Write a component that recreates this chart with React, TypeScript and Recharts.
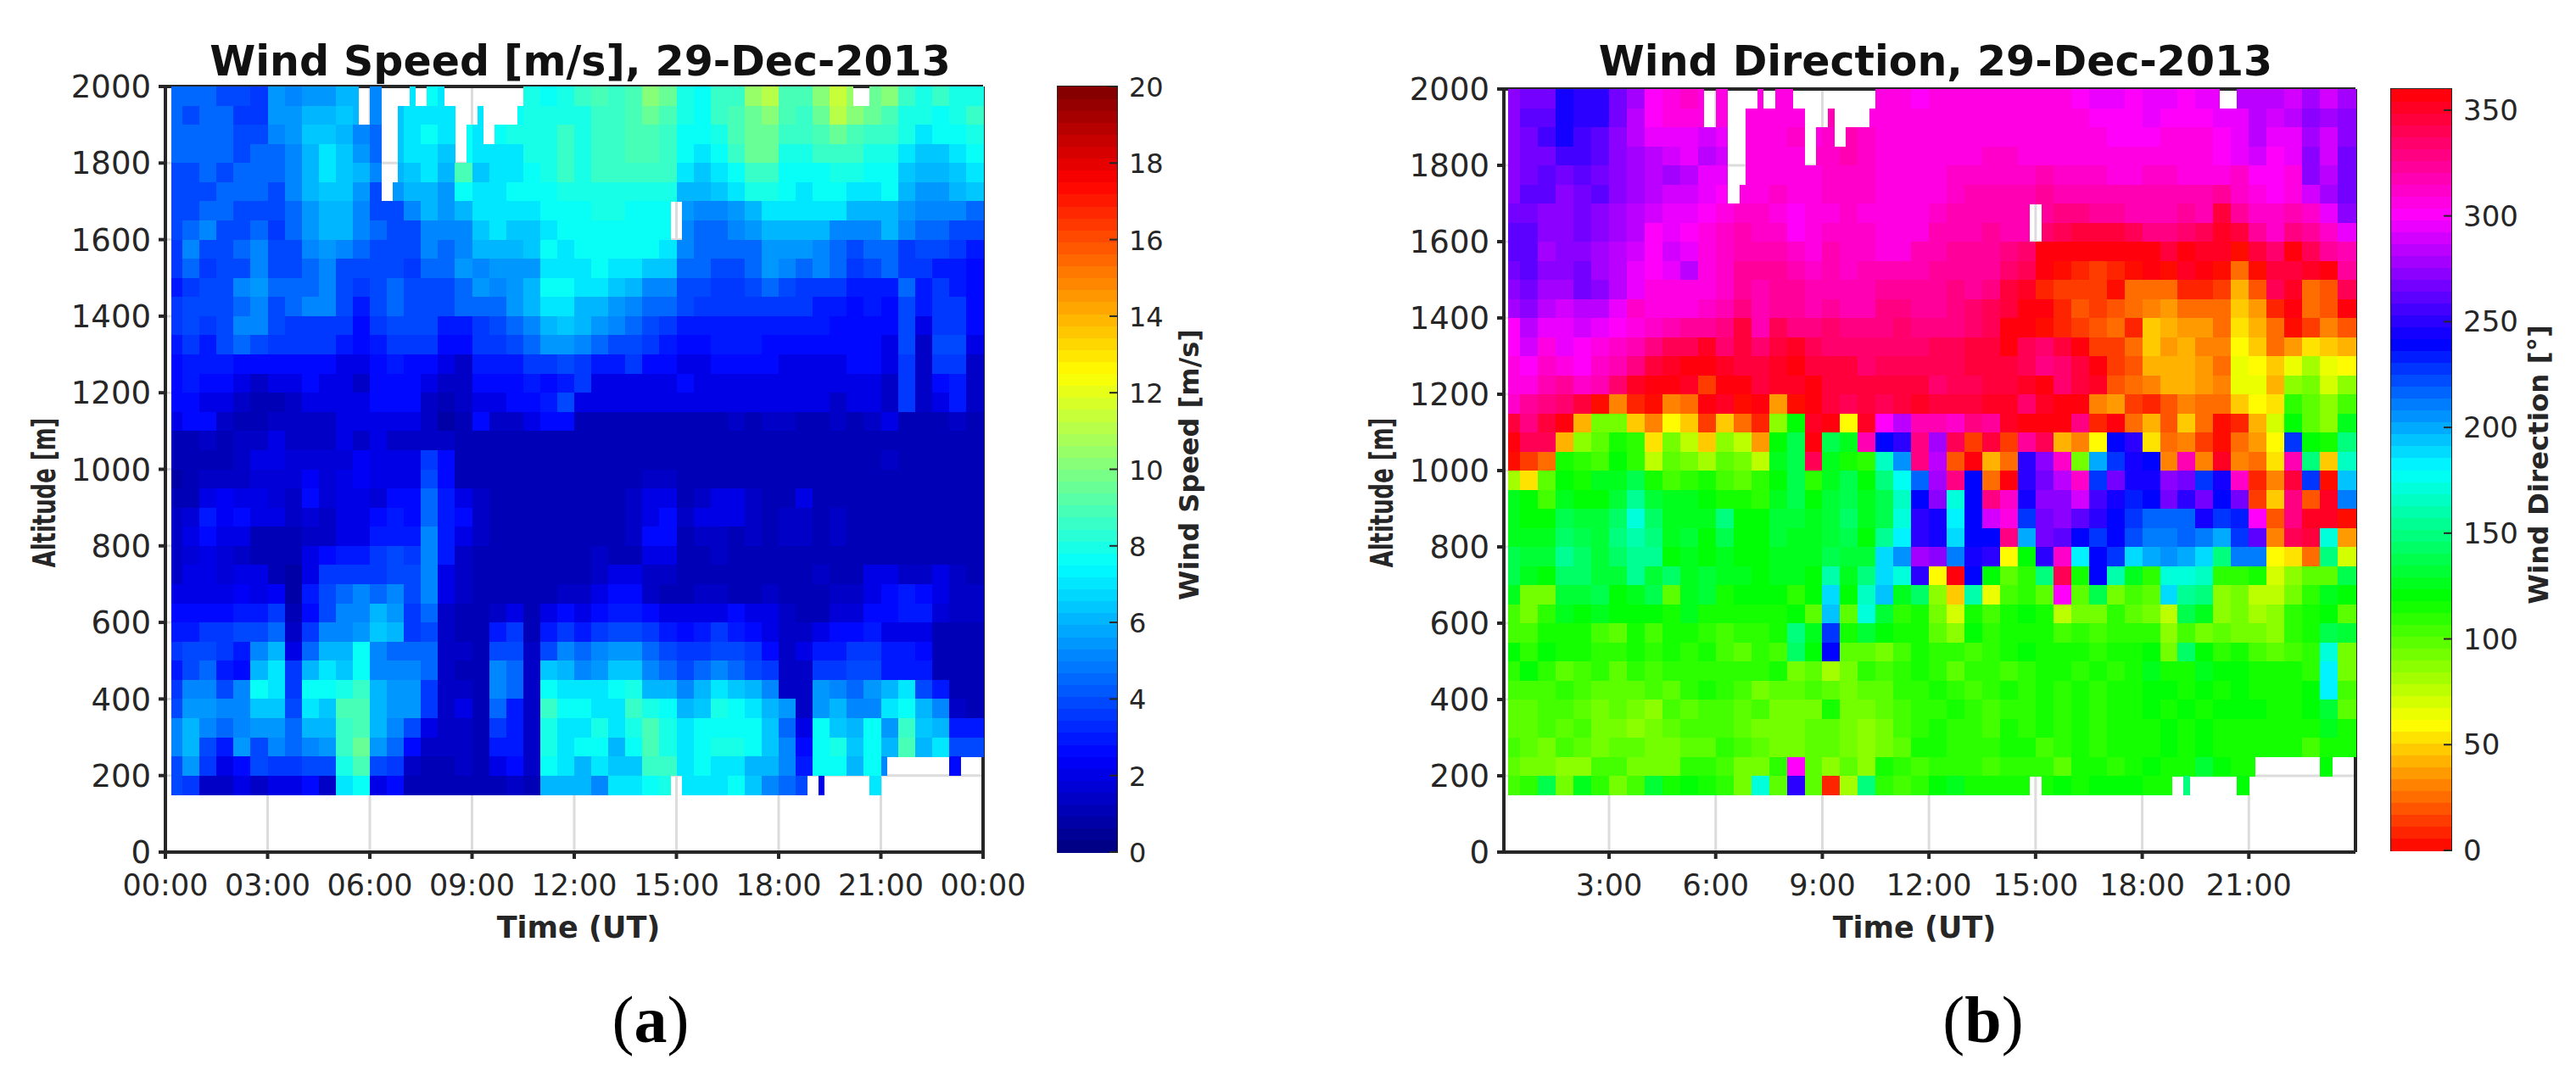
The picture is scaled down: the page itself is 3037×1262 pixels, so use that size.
import { ReferenceArea, Scatter, ScatterChart, CartesianGrid, XAxis, YAxis } from "recharts"

const FONT = "'DejaVu Sans', sans-serif"
const INK = "#262626"

// bin centres, top of the plot first (50 m bins)
const altitudes = [
  1975, 1925, 1875, 1825, 1775, 1725, 1675, 1625, 1575, 1525, 1475, 1425, 1375, 1325, 1275, 1225, 1175, 1125, 1075,
  1025, 975, 925, 875, 825, 775, 725, 675, 625, 575, 525, 475, 425, 375, 325, 275, 225, 175,
]

// 30 minute columns, 8 groups of 3 hours per row
const speedRows = [
  [4.5,4.5,4.5,4,4,3.5, 5.5,5,5.5,5.5,6,6, 5,6.5,7,7.5,7,7, 7,7,7.5,8,7.5,8, 8.5,9,8.5,9,10,9.5, 8,7.5,8.5,8.5,10.5,11, 9,9,10,11.5,10.5,9.5, 10,8.5,8,8.5,8,8],
  [4.5,4,4.5,4.5,3.5,3.5, 5.5,5.5,6,6,6.5,6, 5,6.5,7,7,7,6.5, 7,7,7.5,8,8,8, 8,8.5,8.5,9,9.5,9, 8,7.5,8.5,9,9.5,10, 9,8.5,9.5,11,10,9.5, 9,8,8,7.5,8,8.5],
  [4.5,4.5,4.5,4.5,4,4, 5,5.5,6.5,6.5,6,5, 4.5,6.5,7,7.5,7,7.5, 7,7.5,8,8,8,8.5, 8,8.5,8.5,9,9,8.5, 7.5,7.5,8,9,9.5,9.5, 8.5,8.5,9,9.5,9,8.5, 8.5,8,7,7.5,7.5,8],
  [4.5,4.5,4.5,4.5,4,4.5, 4.5,5,6,7,6.5,5.5, 4.5,6.5,7,7,6.5,7.5, 7,7,7,8,8,8.5, 8,8.5,8.5,9,9,8.5, 7.5,7,7.5,8.5,9.5,9.5, 8,8,8.5,8.5,8.5,8, 8,7,6.5,6.5,7,7.5],
  [4,4,4.5,4,4.5,4.5, 4.5,5,6,7,6.5,6, 5,6,6.5,7,6,9, 6.5,7,7,7.5,8,8.5, 8,8.5,8.5,8.5,8.5,8.5, 7,6.5,7,7.5,8.5,8.5, 7.5,7.5,7.5,8,8,7.5, 7.5,6.5,6,6,6.5,7],
  [4,4,4,4.5,4.5,4.5, 4,5,6,6.5,6.5,5.5, 4,5.5,6,6,5.5,7.5, 7,7,7.5,7.5,7.5,8, 8,8,8,8,8,8, 6,6,6.5,7,8,8, 7.5,7,7.5,7.5,7,7, 7.5,6,5.5,5.5,6,6.5],
  [4,4,4.5,4.5,4,4, 4,4.5,5.5,6,6,5, 4,4,5,6,5.5,6, 7,7,7,7,7.5,7.5, 7.5,8,8,7.5,7.5,7.5, 5.5,5,5,5.5,6,7, 7,7,7,7,6,6, 6,5.5,5,5,5,4.5],
  [4,4.5,5,4,4,4.5, 3.5,4.5,5.5,6,6,5, 4.5,4,4,5,5,5, 6.5,7,6.5,6.5,7,7.5, 7.5,7.5,7.5,7.5,7.5,7.5, 5,4.5,4.5,5,5.5,6, 6,6,6,5,5,5, 6,5,4.5,4.5,4,4],
  [3.5,5,4,4,4.5,5, 4,4,5,5.5,5,4.5, 4,4,4,5,4.5,5, 6,6,6,6.5,7.5,7, 7.5,7.5,7.5,7.5,7.5,7, 5,4.5,4.5,4.5,4.5,5.5, 5.5,5.5,5,4.5,4,4.5, 4.5,3.5,4,4,3.5,3],
  [3.5,4.5,3.5,4,4,5, 4,4,4.5,5,4,4, 4,4,3.5,4.5,4.5,5.5, 5,5.5,5.5,5.5,7,7, 7,7.5,7,7,6.5,6.5, 4.5,4.5,4,4,4.5,5.5, 5,4.5,5,4.5,3.5,4, 4.5,3.5,3.5,3,3,2.5],
  [3,3.5,4,4,5,5.5, 4.5,4.5,4.5,5,4,3.5, 4,4.5,4,4,4,4.5, 5.5,5,5.5,6,7.5,7.5, 7,7,6.5,6,5,5, 4,4,3.5,3.5,4,4.5, 4,3.5,3.5,3.5,3,3, 3,4.5,3,3.5,3,2.5],
  [3.5,4,4,4,4.5,5, 4,4.5,5,5,4,3, 4,4.5,4,4,4,4.5, 4.5,4.5,5.5,6,7,7, 6,6,5.5,5,4.5,4.5, 4,3.5,3.5,3.5,3.5,3.5, 3.5,3.5,3,3,2.5,3, 2.5,4,3,3.5,3.5,2.5],
  [3.5,4,3.5,4,5,5, 4,3.5,3.5,3.5,3.5,2.5, 3.5,4,4,4,3,3, 3.5,4,4.5,5,6,6.5, 6,5.5,5,4.5,4,3.5, 3,3,3,3,3,3, 3,3,3,2.5,2.5,2.5, 2.5,4,2,3.5,3.5,2.5],
  [3,3.5,3,4,4.5,4, 3.5,3.5,3.5,3.5,3,2.5, 3,3.5,3.5,3.5,2.5,2.5, 3.5,3.5,4,4.5,5.5,5.5, 5,4.5,4,4,3.5,3, 2.5,2.5,3,3,3,2.5, 2.5,2.5,2.5,2.5,2.5,2.5, 2,4,1.5,4,4,2],
  [2.5,3,3,3,2.5,2.5, 2.5,2.5,2.5,2.5,2,2, 2.5,3,2.5,2.5,2,1.5, 3,3,3,3.5,3.5,4, 3.5,3,3,3.5,2.5,2.5, 2,2,2.5,2.5,2.5,2.5, 2,2,2,2,2.5,2.5, 2,3.5,1.5,3.5,3.5,1.5],
  [2.5,3,2.5,2.5,2,1.5, 2,2,2.5,2,2,1.5, 2.5,2.5,2.5,2,1.5,1.5, 2.5,2.5,2.5,3,2.5,3, 3.5,2,2,2,2,2, 2.5,2,2,2,2,2, 2,2,2,2,2,2, 1.5,3.5,1.5,2.5,3,1.5],
  [2.5,2.5,2,2,1.5,1, 1,1.5,2,2,2,2, 2.5,2.5,2.5,1.5,1,1.5, 2,2,2.5,2.5,3,4, 2,2,2,2,2,2, 2,2,2,2,2,2, 2,2,2,1.5,2,2, 1.5,3.5,1.5,2,3,1.5],
  [2,2.5,2.5,1.5,1,1, 1.5,1.5,1.5,1.5,2,2, 2,2,2,1.5,0.8,1, 2.5,1.5,1.5,2,2.5,2.5, 1.2,1.2,1.2,1.2,1.2,1.2, 1.2,1.2,1.2,1.5,1.2,1.5, 1.5,1.2,1,1.5,1,1.5, 2,1,1,1.2,1.5,1.2],
  [1,1.2,1.5,1,1.5,1.5, 2,1.5,1.5,1.5,2,1.5, 2,1.5,1.5,1.5,1.5,1, 1,1,1.2,1.2,1.2,1.2, 1,1,1.2,1,1,1, 1,1,1,1,1,1, 1.2,1,1.2,1.2,1.2,1, 1.2,1,1,1,1,1],
  [1,1,1.2,1.2,1.5,2, 2,1.8,1.8,1.8,1.8,2.2, 2,2,2,3.5,2.5,1.2, 1.2,1,1,1,1,1, 1,1,1,1,1,1, 1,1,1,1,1,1, 1,1,1,1,1,1, 1.5,1,1,1,1,1],
  [0.8,1,1.5,1.5,1.5,1.8, 1.8,1.8,2.2,1.8,2,2.2, 2,2,2,4,2.5,1, 1,1,1,1,1,1, 1,1,1,1.2,1.5,1.5, 1,1,1,1,1,1, 1,1,1,1,1,1, 1,1,1,1,1,1],
  [1,1,2,2.2,2,2, 1.8,1.5,2.5,1.8,2,2, 1.8,2.5,2.5,4.5,3,2, 1.5,1.2,1.2,1,1,1, 1,1,1,1.5,2,2, 1.2,1.5,2,2,1.5,1, 1.2,2,1,1,1,1, 1,1,1,1,1,1],
  [1.5,1.8,3,2.2,2.5,2, 2,1.5,1.8,1.5,2,2, 2.5,3,2.5,4.5,3,2.5, 1.5,1,1,1,1,1, 1.2,1,1,1.5,2,2.5, 1.5,2,2,2,1.5,1.2, 1.5,1.5,1,1.5,1,1, 1,1,1,1,1,1],
  [1.5,2,2.5,2,2,1.2, 1.2,1.2,1.5,1.5,2,2, 3,3,3,5,3,2, 1.5,1.2,1,1,1,1, 1.2,1,1,1.5,2.5,2.5, 1.2,1.5,1.5,1.2,1.5,1.2, 1.5,1.5,1,1.5,1,1.2, 1,1,1,1,1,1],
  [1.5,1.8,2,1.8,1.5,1.2, 1,1.2,2,2.5,3,3, 3.5,4,3.5,5,3,1.5, 1,1,1,1,1.2,1, 1.2,1.5,1,1,2,2, 1,1,1.5,1,1,1, 1,1,1,1,1,1, 1,1,1,1,1,1],
  [1.5,2,2,1.8,2,2, 1.2,0.8,2,3.5,3.5,3.5, 3.5,4,4,5,2,1.5, 1.2,1,1,1,1,1, 1.2,1.5,2,2,1.5,1.5, 1,1,1,1,1,1, 1,1,1.5,1,1.2,2, 2,1.5,1.5,2,1.5,1],
  [2,2,2,2,2.2,2, 2.2,0.8,3,4,4.5,5, 4.5,5,4,5,2,1.5, 1,1,1.2,1,1,1.5, 1.5,2,2.5,2.5,1.5,1.2, 1.2,1.5,1.5,1.2,1.2,1.5, 1,1,1,1.5,1.5,2, 2.5,3,2.5,2,1.5,1.5],
  [2.5,2.5,2.5,2.5,3,3, 3.5,1,2.5,4,5,5, 6,5.5,3.5,4.5,1.5,1.2, 1,1.5,2,1.2,2,2.5, 2,2.5,3,3,2.5,2, 2,2,2,2.5,2,2, 1.5,1.2,1.2,1.8,1.8,2.5, 2.5,3,3,1.8,1.5,1.5],
  [3,3,3.5,3.5,4,4, 4.5,1.5,3.5,5,5,5.5, 6.5,6,3.5,4,1.5,1.2, 1,3,3.5,1.2,3,3.5, 3,3.5,4,4,3.5,3, 2.5,3,3.5,3,2.5,2, 1.5,1.5,2,2.5,2.5,3, 2,2,2,1,1,1],
  [3.5,4,4,3.5,3,5, 6,2,4.5,6,6,7.5, 5,4.5,4.5,4.5,1.5,1.5, 1,4,4,1.5,4,5, 4.5,5,5.5,5.5,4.5,4, 3.5,3.5,4,4,3.5,2.5, 1.5,2,3,3,3.5,3.5, 3,3,2.5,1,1,1],
  [3,4,4.5,3,2.5,6, 7,3.5,6,7,6.5,7.5, 5,5,5,4.5,1.5,1.2, 1,5,4.5,1.5,6.5,6, 5,5.5,6.5,6.5,5,4.5, 4,4.5,5,4.5,4,3.5, 1.5,1.5,3.5,3.5,4,4, 3,3,3,1,1,1],
  [3.5,5,5,4,5,7.5, 7,3.5,7.5,7.5,8,8.5, 6,5.5,5.5,3.5,1.5,1.5, 1.2,5,4.5,1.5,7.5,7, 7,7,7.5,8,6,6, 5,6,7,6.5,6,5, 1.5,1.5,5.5,5,4.5,5.5, 6,7,4,3,1,1],
  [4,5.5,5.5,5,5,6.5, 6.5,4,7,6.5,9,9, 6,5.5,5.5,3.5,1.5,2, 1.2,4.5,3,1.5,8.5,7.5, 7.5,7,7,8.5,8,7.5, 6,6.5,8,7.5,7,6, 5.5,1.5,5.5,6,5,5, 7,7.5,6,5,1.5,1],
  [5,6,5,4.5,5,5.5, 5.5,4.5,6,6,8.5,9, 6,5,4,2,1.5,1.5, 1.2,3.5,3,1.5,8,7, 7,8,7,8,9,8, 7,7.5,7.5,7.5,7.5,6.5, 4.5,2,7.5,6.5,6,7.5, 5.5,8.5,6.5,6,3,3],
  [5,6,4,3,5.5,4, 5,4.5,5,5.5,8.5,9.5, 5.5,4.5,2.5,1.5,1.5,1.5, 1,3,3,1.5,8,7, 7.5,7.5,6,7.5,9,8, 7,7.5,8,8,7.5,6.5, 5,2.5,7.5,8,6.5,7.5, 6,9,6,7,4,4],
  [4,5.5,3.5,2,2.5,4, 3.5,3.5,4,4,8,9, 4,3.5,1.5,1,1,1.5, 1,2,2.5,1.5,7.5,7, 6,7,6.5,6.5,8.5,8.5, 7,7.5,7,7,6,6, 5,3,7.5,7.5,6,7.5, 5,5,5,5.5,2.5,5],
  [4,3.5,1.5,1.5,2,1.5, 2,2,2.5,1.5,7,7.5, 2,2.5,1,1,1,1, 1,1.2,1.5,1,6,6, 6,5,7,7,7.5,8, 7,7,7,7.5,6.5,5, 4.5,4,2,2,2,7, 5,5,5,5,5,5],
]

const directionRows = [
  [275,265,265,245,250,252, 265,280,300,305,310,305, 305,305,305,305,305,305, 305,310,305,305,305,302, 305,305,305,305,305,305, 305,305,300,298,298,300, 298,298,300,295,295,285, 282,285,290,278,290,278],
  [270,262,262,245,250,252, 268,282,300,305,305,305, 305,305,305,305,305,310, 318,305,305,305,305,305, 305,305,305,305,305,305, 305,305,305,302,300,300, 298,300,300,300,298,295, 285,290,285,275,280,275],
  [272,265,258,245,255,260, 270,282,295,298,295,290, 295,305,305,305,310,305, 310,315,310,305,305,305, 305,305,305,305,305,305, 305,305,305,305,300,300, 302,305,305,305,300,295, 285,295,295,278,290,270],
  [272,265,265,255,258,262, 272,280,285,290,295,285, 290,305,305,305,305,310, 310,315,312,305,305,305, 305,305,305,310,310,305, 305,305,305,305,305,305, 305,305,305,305,300,298, 290,300,295,272,290,268],
  [272,265,260,265,262,265, 275,280,285,280,285,295, 295,305,305,305,305,305, 310,310,310,305,305,305, 305,310,310,312,310,310, 315,312,312,310,305,305, 310,310,305,305,305,310, 300,302,305,275,285,265],
  [270,262,262,272,265,262, 275,280,285,290,290,295, 300,305,305,310,305,305, 310,310,310,305,305,305, 305,310,315,318,315,315, 325,320,320,318,315,315, 315,315,315,315,325,310, 305,300,305,290,280,268],
  [265,265,270,272,268,275, 278,282,290,295,295,300, 305,310,310,305,300,305, 305,310,305,305,305,305, 310,315,320,320,320,315, 325,330,328,325,322,320, 320,320,322,320,345,325, 310,310,315,310,295,275],
  [262,262,275,272,265,272, 280,285,300,295,300,305, 310,315,312,310,300,305, 310,310,310,305,305,305, 315,318,320,322,320,320, 335,340,345,345,345,340, 330,330,335,340,350,345, 325,312,330,325,310,295],
  [262,262,278,272,270,280, 282,290,300,290,295,305, 310,320,318,315,310,305, 315,310,310,305,305,315, 320,322,325,325,330,335, 355,358,358,358,358,358, 355,345,355,350,350,5, 345,335,355,340,322,315],
  [265,262,275,275,268,280, 285,295,300,295,285,305, 310,325,325,325,320,310, 315,310,315,315,315,318, 325,325,325,325,335,340, 358,5,10,15,10,0, 355,5,352,355,0,25, 5,345,345,350,355,325],
  [270,265,280,280,268,275, 285,295,305,305,305,308, 310,325,318,325,325,315, 320,315,320,325,325,325, 325,330,325,330,345,350, 10,15,15,15,5,25, 25,25,10,8,15,40, 20,340,350,28,20,340],
  [280,275,285,290,285,285, 295,310,305,305,305,310, 315,330,315,325,325,320, 325,320,320,330,328,325, 325,330,335,338,345,355, 355,10,18,15,18,25, 32,38,28,25,28,48, 35,10,355,25,22,355],
  [300,285,298,295,290,295, 300,305,310,320,325,325, 330,345,320,340,328,328, 335,330,330,330,335,330, 330,330,335,340,355,355, 0,8,15,18,25,10, 45,42,38,38,25,55, 42,25,5,15,30,20],
  [300,290,305,298,300,305, 310,315,330,340,340,350, 335,345,335,345,350,340, 335,335,335,335,335,335, 340,340,345,345,355,340, 335,345,355,12,15,25, 45,38,42,32,30,60, 50,25,35,55,45,42],
  [305,300,310,305,300,310, 315,330,345,350,355,355, 350,345,345,352,355,345, 345,345,335,340,340,340, 340,340,345,345,345,340, 330,335,345,355,15,22, 40,42,40,35,28,62, 60,50,65,80,65,60],
  [305,305,320,325,310,320, 335,350,355,355,352,15, 358,355,345,350,352,355, 345,345,345,345,345,345, 335,338,340,345,345,350, 355,335,345,350,18,25, 32,40,42,38,30,62, 65,40,85,90,70,85],
  [310,325,330,335,345,5, 30,8,5,30,25,358, 350,5,355,35,0,355, 345,340,345,340,345,350, 345,345,345,350,350,335, 350,355,355,30,38,15, 8,20,30,28,25,45, 60,55,110,100,85,105],
  [345,330,345,355,40,90, 90,50,30,60,45,15, 50,25,10,85,120,350, 355,60,350,300,285,320, 320,310,330,325,350,355, 355,358,330,10,358,25, 40,20,45,25,5,10, 40,70,120,100,85,125],
  [355,340,340,40,85,100, 115,110,55,90,75,50, 85,75,35,120,135,355, 140,125,320,240,250,330, 280,340,15,345,15,325, 340,40,30,60,240,250, 55,25,30,15,5,25, 35,60,230,120,115,150],
  [5,15,25,115,110,105, 120,110,75,100,95,80, 100,95,75,125,140,340, 125,115,110,165,205,330, 285,20,355,40,25,250, 275,310,90,200,225,245, 240,30,320,30,350,30, 25,55,320,150,45,165],
  [80,55,100,120,115,125, 125,135,115,105,110,115, 105,100,110,120,135,110, 125,135,120,150,175,215, 280,330,240,25,355,250, 265,285,310,230,265,245, 245,275,265,230,245,310, 10,30,345,230,0,195],
  [125,120,105,125,120,120, 130,155,130,125,125,120, 115,115,110,125,135,120, 130,140,125,140,165,240, 270,170,240,330,310,245, 270,275,290,255,245,235, 240,265,250,265,240,265, 15,50,330,20,350,210],
  [125,120,120,135,130,130, 145,170,145,125,125,125, 150,120,120,130,130,125, 130,145,125,135,170,250, 245,185,240,290,305,225, 265,270,260,250,240,225, 215,215,215,245,230,235, 300,20,330,350,350,5],
  [125,125,125,145,140,130, 150,160,150,125,130,120, 135,120,120,130,125,125, 130,135,120,155,185,250, 245,190,240,240,330,200, 265,260,240,225,240,220, 210,210,215,210,200,225, 260,30,340,345,170,35],
  [135,130,130,155,145,130, 145,155,155,120,125,120, 125,120,120,125,125,125, 135,130,130,190,205,280, 270,210,245,250,60,120, 250,310,180,240,230,190, 200,205,200,190,150,210, 210,60,55,25,150,70],
  [140,125,120,145,145,130, 130,155,130,145,125,130, 125,125,120,125,125,120, 160,125,150,190,170,250, 60,355,240,120,100,110, 150,340,115,240,160,125, 110,170,170,165,110,110, 115,70,85,100,100,140],
  [125,90,95,130,130,135, 120,125,135,100,125,130, 115,120,120,120,110,120, 190,120,165,195,125,145, 85,50,160,65,105,110, 100,300,100,140,95,105, 100,190,155,150,85,90, 75,75,90,110,125,120],
  [105,95,110,125,120,125, 120,120,120,115,125,115, 115,115,115,115,120,100, 195,100,170,130,110,115, 95,70,115,105,115,120, 115,75,90,95,110,100, 95,75,140,125,85,90, 80,85,110,115,120,100],
  [105,105,115,115,115,105, 100,115,105,115,115,110, 105,110,110,115,150,125, 230,115,130,120,115,115, 100,85,120,110,115,115, 115,105,110,105,110,110, 110,85,105,90,100,95, 90,85,110,115,135,130],
  [120,110,120,115,115,110, 110,115,110,115,110,115, 105,100,110,105,145,120, 240,100,100,95,105,115, 110,110,105,110,115,120, 115,115,115,110,115,115, 120,95,145,120,110,115, 105,100,105,110,170,90],
  [110,120,110,100,105,110, 100,110,105,110,110,110, 110,110,110,115,90,100, 80,95,110,105,110,115, 110,100,110,110,105,110, 115,115,110,115,110,115, 125,115,115,125,120,120, 115,115,115,110,180,90],
  [105,105,105,110,105,100, 100,100,105,100,110,115, 110,105,95,100,100,105, 100,95,100,100,110,110, 115,110,105,110,115,110, 115,110,115,110,115,115, 120,120,115,120,115,120, 115,115,115,120,180,105],
  [100,100,105,105,100,95, 100,95,85,105,100,105, 105,100,105,90,90,90, 115,90,90,100,105,110, 110,115,110,105,110,110, 115,110,115,110,115,115, 120,115,120,115,120,120, 120,115,115,120,130,100],
  [100,100,105,100,105,95, 95,85,95,100,105,105, 105,100,95,90,95,100, 100,95,85,90,105,110, 115,110,110,105,115,110, 115,110,115,110,115,115, 115,120,115,120,115,115, 115,115,115,115,125,115],
  [105,100,95,105,100,95, 100,100,90,95,100,100, 110,105,100,90,95,100, 100,90,85,95,100,115, 115,110,110,110,115,115, 105,110,115,110,115,115, 115,120,115,120,115,115, 115,115,115,105,115,115],
  [100,95,90,85,85,105, 105,95,90,95,110,110, 105,95,90,110,300,100, 85,100,85,115,110,105, 110,110,110,105,110,110, 110,100,115,115,110,115, 120,115,115,130,120,115, 115,115,115,115,120,120],
  [105,110,140,95,125,110, 90,105,130,115,120,115, 110,95,170,100,250,100, 10,80,150,110,105,110, 120,125,115,115,115,115, 115,120,115,120,120,120, 115,115,150,115,115,120, 115,115,115,115,115,115],
]

// missing retrievals: [from h, to h, from m, to m]
const gaps = [
  [0, 1 / 6, 150, 2000], [5.67, 6, 1900, 2000], [6.33, 6.67, 1700, 2000], [6.67, 6.83, 1750, 2000],
  [6.83, 7.17, 1950, 2000], [7.33, 7.67, 1950, 2000], [8.17, 8.5, 1950, 2000], [8.5, 8.83, 1800, 2000],
  [8.83, 9.17, 1900, 2000], [9.17, 9.33, 1950, 2000], [9.33, 9.67, 1850, 2000], [9.67, 10.33, 1900, 2000],
  [10.33, 10.5, 1950, 2000], [14.83, 15.17, 1600, 1700], [20.17, 20.67, 1950, 2000], [14.83, 15.17, 150, 200],
  [18.83, 19.17, 150, 200], [19.33, 20.67, 150, 200], [21, 24, 150, 200], [21.17, 23, 200, 250], [23.33, 24, 200, 250],
]

const altitudeTicks = [0, 200, 400, 600, 800, 1000, 1200, 1400, 1600, 1800, 2000]
const speedTimeTicks = [0, 3, 6, 9, 12, 15, 18, 21, 24]
const directionTimeTicks = [3, 6, 9, 12, 15, 18, 21]
const speedBarTicks = [0, 2, 4, 6, 8, 10, 12, 14, 16, 18, 20]
const directionBarTicks = [0, 50, 100, 150, 200, 250, 300, 350]

const clamp = (v: number) => Math.round(255 * Math.max(0, Math.min(1, v)))
const jet = (f: number) =>
  `rgb(${clamp(Math.min(4 * f - 1.5, 4.5 - 4 * f))},${clamp(Math.min(4 * f - 0.5, 3.5 - 4 * f))},${clamp(Math.min(4 * f + 0.5, 2.5 - 4 * f))})`
const hsv = (f: number) => {
  const h = f * 6
  const part = (n: number) => 1 - Math.max(0, Math.min(1, Math.min((n + h) % 6, 4 - ((n + h) % 6))))
  return `rgb(${clamp(part(5))},${clamp(part(3))},${clamp(part(1))})`
}
const LEVELS = 64
const quantise = (v: number, max: number) => (Math.min(LEVELS - 1, Math.floor((v / max) * LEVELS)) + 0.5) / LEVELS

const isGap = (t: number, alt: number) => gaps.some((g) => t > g[0] && t < g[1] && alt > g[2] && alt < g[3])

// a 30 min column is only split into 10 min pieces where a gap cuts through it
function buildCells(rows: number[][], max: number, map: (f: number) => string) {
  const cells: { t: number; alt: number; span: number; color: string }[] = []
  rows.forEach((row, r) => {
    row.forEach((v, c) => {
      const color = map(quantise(v, max))
      const parts = [0, 1, 2].map((k) => c * 0.5 + (k + 0.5) / 6)
      const kept = parts.filter((t) => !isGap(t, altitudes[r]))
      if (kept.length === 3) cells.push({ t: c * 0.5 + 0.25, alt: altitudes[r], span: 0.5, color })
      else kept.forEach((t) => cells.push({ t, alt: altitudes[r], span: 1 / 6, color }))
    })
  })
  return cells
}

const timeTickStyle = { fontSize: 35, fontFamily: FONT, fill: INK }
const altTickStyle = { fontSize: 37, fontFamily: FONT, fill: INK }
const axisLine = { stroke: INK, strokeWidth: 4 }
const tickLine = { stroke: INK, strokeWidth: 4 }

function Heatmap({ left, plot, domain, cells, timeTicks, timeFormat }: any) {
  const chartH = 1120
  const pxHour = (plot.right - plot.left) / (domain[1] - domain[0])
  const cellH = ((plot.bottom - plot.top) / 2000) * 50
  const shape = (p: any) => {
    const w = p.payload.span * pxHour
    return (
      <rect
        x={p.cx - w / 2}
        y={p.cy - cellH / 2}
        width={w + 0.5}
        height={cellH + 0.5}
        fill={p.payload.color}
        shapeRendering="crispEdges"
      />
    )
  }
  return (
    <div style={{ position: "absolute", left, top: 0 }}>
      <ScatterChart
        width={plot.width}
        height={chartH}
        margin={{ left: plot.left - 100, right: plot.width - plot.right - 20, top: plot.top - 20, bottom: chartH - plot.bottom - 80 }}
      >
        <CartesianGrid stroke="#dcdcdc" strokeWidth={3} xAxisId="b" yAxisId="l" />
        <XAxis xAxisId="b" dataKey="t" type="number" domain={domain} ticks={timeTicks} tickFormatter={timeFormat} interval={0}
          height={80} tick={timeTickStyle} axisLine={axisLine} tickLine={tickLine} tickSize={8} tickMargin={18} />
        <XAxis xAxisId="t" orientation="top" type="number" domain={domain} ticks={timeTicks} interval={0}
          height={20} tick={false} axisLine={axisLine} tickLine={tickLine} tickSize={8} />
        <YAxis yAxisId="l" dataKey="alt" type="number" domain={[0, 2000]} ticks={altitudeTicks} interval={0}
          width={100} tick={altTickStyle} axisLine={axisLine} tickLine={tickLine} tickSize={8} tickMargin={9} />
        <YAxis yAxisId="r" orientation="right" type="number" domain={[0, 2000]} ticks={altitudeTicks} interval={0}
          width={20} tick={false} axisLine={axisLine} tickLine={tickLine} tickSize={8} />
        <Scatter xAxisId="b" yAxisId="l" data={cells} shape={shape} isAnimationActive={false} />
      </ScatterChart>
    </div>
  )
}

function ColorBar({ left, top, width, bottom, max, ticks, map, fontSize }: any) {
  const levels = Array.from({ length: LEVELS }, (_, i) => ({ x: 0.5, y: ((i + 0.5) / LEVELS) * max, color: map((i + 0.5) / LEVELS) }))
  const h = (bottom - top) / LEVELS
  const shape = (p: any) => (
    <rect x={p.cx - width / 2} y={p.cy - h / 2} width={width} height={h + 0.5} fill={p.payload.color} shapeRendering="crispEdges" />
  )
  const barTick = (p: any) => (
    <g>
      <line x1={p.x - 9} x2={p.x} y1={p.y} y2={p.y} stroke={INK} strokeWidth={2} />
      <text x={p.x + 14} y={p.y + 12} fontSize={fontSize} fontFamily={FONT} fill={INK}>{p.payload.value}</text>
    </g>
  )
  return (
    <div style={{ position: "absolute", left: left - 10, top: top - 30 }}>
      <ScatterChart width={width + 120} height={bottom - top + 60} margin={{ left: 10, right: 10, top: 30, bottom: 30 }}>
        <XAxis dataKey="x" type="number" domain={[0, 1]} hide />
        <YAxis dataKey="y" type="number" orientation="right" domain={[0, max]} ticks={ticks} interval={0}
          width={100} axisLine={false} tickLine={false} tickSize={0} tickMargin={0} tick={barTick} />
        <Scatter data={levels} shape={shape} isAnimationActive={false} />
        <ReferenceArea x1={0} x2={1} y1={0} y2={max} fill="none" stroke={INK} strokeWidth={2} />
      </ScatterChart>
    </div>
  )
}

function Label({ x, y, size, rotate = 0, squeeze = 1, color = INK, children }: any) {
  return (
    <div
      style={{
        position: "absolute",
        left: x,
        top: y,
        transform: `translate(-50%, -50%) rotate(${rotate}deg) scaleX(${squeeze})`,
        fontFamily: FONT,
        fontSize: size,
        fontWeight: "bold",
        color,
        whiteSpace: "nowrap",
      }}
    >
      {children}
    </div>
  )
}

function Caption({ x, letter }: any) {
  return (
    <div
      style={{
        position: "absolute",
        left: x,
        top: 1203,
        transform: "translate(-50%, -50%)",
        fontFamily: "'Liberation Serif', serif",
        fontSize: 78,
        color: "#000",
        whiteSpace: "nowrap",
      }}
    >
      (<b>{letter}</b>)
    </div>
  )
}

const speedCells = buildCells(speedRows, 20, jet)
const directionCells = buildCells(directionRows, 360, hsv)

export default function App() {
  return (
    <div style={{ position: "absolute", left: 0, top: 0, width: 3037, height: 1262, background: "#fff", overflow: "hidden" }}>
      <Heatmap
        left={0}
        plot={{ left: 195, right: 1159, top: 102, bottom: 1005, width: 1240 }}
        domain={[0, 24]}
        cells={speedCells}
        timeTicks={speedTimeTicks}
        timeFormat={(h: number) => `${String(h % 24).padStart(2, "0")}:00`}
      />
      <Heatmap
        left={1600}
        plot={{ left: 173, right: 1177, top: 105, bottom: 1005, width: 1220 }}
        domain={[0.04, 24]}
        cells={directionCells}
        timeTicks={directionTimeTicks}
        timeFormat={(h: number) => `${h}:00`}
      />
      <ColorBar left={1247} top={102} bottom={1005} width={70} max={20} ticks={speedBarTicks} map={jet} fontSize={32} />
      <ColorBar left={2819} top={105} bottom={1003} width={71} max={360} ticks={directionBarTicks} map={hsv} fontSize={34} />

      <Label x={684} y={72} size={49} color="#111">Wind Speed [m/s], 29-Dec-2013</Label>
      <Label x={2282} y={72} size={49} color="#111">Wind Direction, 29-Dec-2013</Label>
      <Label x={52} y={581} size={37} rotate={-90} squeeze={0.7}>Altitude [m]</Label>
      <Label x={1629} y={581} size={37} rotate={-90} squeeze={0.7}>Altitude [m]</Label>
      <Label x={682} y={1094} size={35}>Time (UT)</Label>
      <Label x={2257} y={1094} size={35}>Time (UT)</Label>
      <Label x={1402} y={548} size={32} rotate={-90}>Wind Speed [m/s]</Label>
      <Label x={2993} y={548} size={32.5} rotate={-90}>Wind Direction [°]</Label>
      <Caption x={767} letter="a" />
      <Caption x={2338} letter="b" />
    </div>
  )
}
